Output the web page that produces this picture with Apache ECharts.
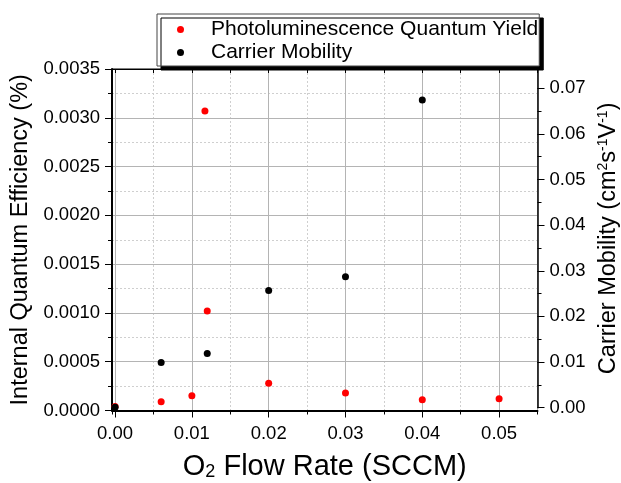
<!DOCTYPE html>
<html>
<head>
<meta charset="utf-8">
<script src="https://cdn.jsdelivr.net/npm/echarts@6/dist/echarts.min.js"></script>
<style>
  html, body { margin: 0; padding: 0; background: #fff; }
  #chart { width: 621px; height: 483px; }
</style>
</head>
<body>
<div id="chart"></div>
<script>
// O2 flow rate (SCCM) for each measurement
const flowRatePL = [0, 0.006, 0.010, 0.0117, 0.012, 0.020, 0.030, 0.040, 0.050];
// Internal quantum efficiency (%), left axis
const plqy = [0.00004, 0.00009, 0.00015, 0.00307, 0.00102, 0.00028, 0.00018, 0.00011, 0.00012];

const flowRateMob = [0, 0.006, 0.012, 0.020, 0.030, 0.040];
// Carrier mobility (cm^2 s^-1 V^-1), right axis
const mobility = [0.0001, 0.0099, 0.0119, 0.0257, 0.0287, 0.0674];

const seriesNames = ['Photoluminescence Quantum Yield', 'Carrier Mobility'];

const FONT = 'Liberation Sans, Arial, sans-serif';
const X_MIN = -0.0004, X_MAX = 0.055;
const IQE_MIN = 0, IQE_MAX = 0.0035, IQE_STEP = 0.0005;
const MOB_MIN = 0, MOB_MAX = 0.0742, MOB_STEP = 0.01;

const majorGrid = { show: true, lineStyle: { color: '#b4b4b4', width: 1, type: 'solid' } };
const minorGrid = { show: true, lineStyle: { color: '#cfcfcf', width: 1, type: [2, 2] } };
const labelStyle = { color: '#000', fontSize: 18.5, fontFamily: FONT };

const chart = echarts.init(document.getElementById('chart'), null, { renderer: 'canvas' });

chart.setOption({
  backgroundColor: '#fff',
  animation: false,
  grid: [
    { left: 112, right: 83.5, top: 69, bottom: 72.5, show: true, borderColor: '#000', borderWidth: 1,
      backgroundColor: 'transparent', outerBoundsMode: 'none', containLabel: false },
    { left: 112, right: 83.5, top: 69, bottom: 75.3, show: false, outerBoundsMode: 'none', containLabel: false }
  ],
  legend: {
    orient: 'vertical',
    left: 157,
    top: 14,
    padding: [5, 1, 3, 20],
    itemGap: 2,
    itemWidth: 7,
    itemHeight: 7,
    icon: 'circle',
    backgroundColor: '#fff',
    borderColor: '#444',
    borderWidth: 1,
    shadowColor: '#000',
    shadowBlur: 0,
    shadowOffsetX: 4,
    shadowOffsetY: 4,
    formatter: name => '{t|' + name + '}',
    textStyle: {
      color: '#000', fontSize: 21, fontFamily: FONT,
      rich: { t: { color: '#000', fontSize: 21, fontFamily: FONT, lineHeight: 22, padding: [0, 0, 0, 22] } }
    },
    data: seriesNames
  },
  xAxis: [
    {
      // flow rate, labelled every 0.01
      type: 'value', gridIndex: 0, position: 'bottom',
      min: X_MIN, max: X_MAX, splitNumber: 5,
      axisLine: { show: true, onZero: false, lineStyle: { color: '#000', width: 2 } },
      axisTick: { show: true, inside: false, length: 7, lineStyle: { color: '#000', width: 1 } },
      axisLabel: { ...labelStyle, margin: 14, showMinLabel: false, showMaxLabel: false,
        formatter: v => v.toFixed(2) },
      splitLine: majorGrid,
      name: '{n|O}{sub|2}{n| Flow Rate (SCCM)}',
      nameLocation: 'middle', nameGap: 42,
      nameTextStyle: {
        color: '#000', fontFamily: FONT, fontSize: 29,
        rich: {
          n: { fontSize: 29, fontFamily: FONT, color: '#000' },
          sub: { fontSize: 18, fontFamily: FONT, color: '#000', verticalAlign: 'bottom' }
        }
      },
      z: 3
    },
    {
      // half-step ticks and dotted grid
      type: 'value', gridIndex: 0, position: 'bottom',
      min: X_MIN, max: X_MAX, splitNumber: 11,
      axisLine: { show: false, onZero: false },
      axisTick: { show: true, inside: false, length: 4, lineStyle: { color: '#000', width: 1 } },
      axisLabel: { show: false },
      splitLine: minorGrid,
      z: 1
    },
    {
      // top frame ticks
      type: 'value', gridIndex: 0, position: 'top',
      min: X_MIN, max: X_MAX, splitNumber: 11,
      axisLine: { show: true, onZero: false, lineStyle: { color: '#000', width: 1 } },
      axisTick: { show: true, inside: true, length: 4, lineStyle: { color: '#000', width: 1 } },
      axisLabel: { show: false },
      splitLine: { show: false },
      z: 3
    },
    {
      // flow rate for the mobility grid
      type: 'value', gridIndex: 1,
      min: X_MIN, max: X_MAX, splitNumber: 5,
      show: false
    }
  ],
  yAxis: [
    {
      type: 'value', gridIndex: 0, position: 'left',
      min: IQE_MIN, max: IQE_MAX, interval: IQE_STEP,
      axisLine: { show: true, onZero: false, lineStyle: { color: '#000', width: 2 } },
      axisTick: { show: true, inside: false, length: 7, lineStyle: { color: '#000', width: 1 } },
      minorTick: { show: true, splitNumber: 2, length: 4, lineStyle: { color: '#000', width: 1 } },
      axisLabel: { ...labelStyle, margin: 12, formatter: v => v.toFixed(4) },
      splitLine: majorGrid,
      minorSplitLine: minorGrid,
      name: 'Internal Quantum Efficiency (%)',
      nameLocation: 'middle', nameGap: 75,
      nameTextStyle: { color: '#000', fontFamily: FONT, fontSize: 23.5 },
      z: 3
    },
    {
      type: 'value', gridIndex: 1, position: 'right',
      min: MOB_MIN, max: MOB_MAX, interval: MOB_STEP,
      axisLine: { show: true, onZero: false, lineStyle: { color: '#000', width: 1.5 } },
      axisTick: { show: true, inside: false, length: 7, lineStyle: { color: '#000', width: 1 } },
      axisLabel: { ...labelStyle, margin: 12, showMaxLabel: false, formatter: v => v.toFixed(2) },
      splitLine: { show: false },
      name: '{n|Carrier Mobility (cm}{sup|2}{n|s}{sup|-1}{n|V}{sup|-1}{n|)}',
      nameLocation: 'middle', nameGap: 47,
      nameTextStyle: {
        color: '#000', fontFamily: FONT, fontSize: 23.5,
        rich: {
          n: { fontSize: 23.5, fontFamily: FONT, color: '#000' },
          sup: { fontSize: 14, fontFamily: FONT, color: '#000', verticalAlign: 'top' }
        }
      },
      z: 3
    },
    {
      // half-step ticks on the mobility axis
      type: 'value', gridIndex: 1, position: 'right',
      min: MOB_MIN, max: MOB_MAX, interval: MOB_STEP / 2,
      axisLine: { show: false, onZero: false },
      axisTick: { show: true, inside: false, length: 4, lineStyle: { color: '#000', width: 1 } },
      axisLabel: { show: false },
      splitLine: { show: false },
      z: 3
    }
  ],
  series: [
    {
      name: seriesNames[0],
      type: 'scatter',
      xAxisIndex: 0, yAxisIndex: 0,
      symbol: 'circle', symbolSize: 7,
      itemStyle: { color: '#ff0000', opacity: 1 },
      data: flowRatePL.map((x, i) => [x, plqy[i]]),
      z: 5
    },
    {
      name: seriesNames[1],
      type: 'scatter',
      xAxisIndex: 3, yAxisIndex: 1,
      symbol: 'circle', symbolSize: 7,
      itemStyle: { color: '#000000', opacity: 1 },
      data: flowRateMob.map((x, i) => [x, mobility[i]]),
      z: 6
    }
  ]
});
</script>
</body>
</html>
